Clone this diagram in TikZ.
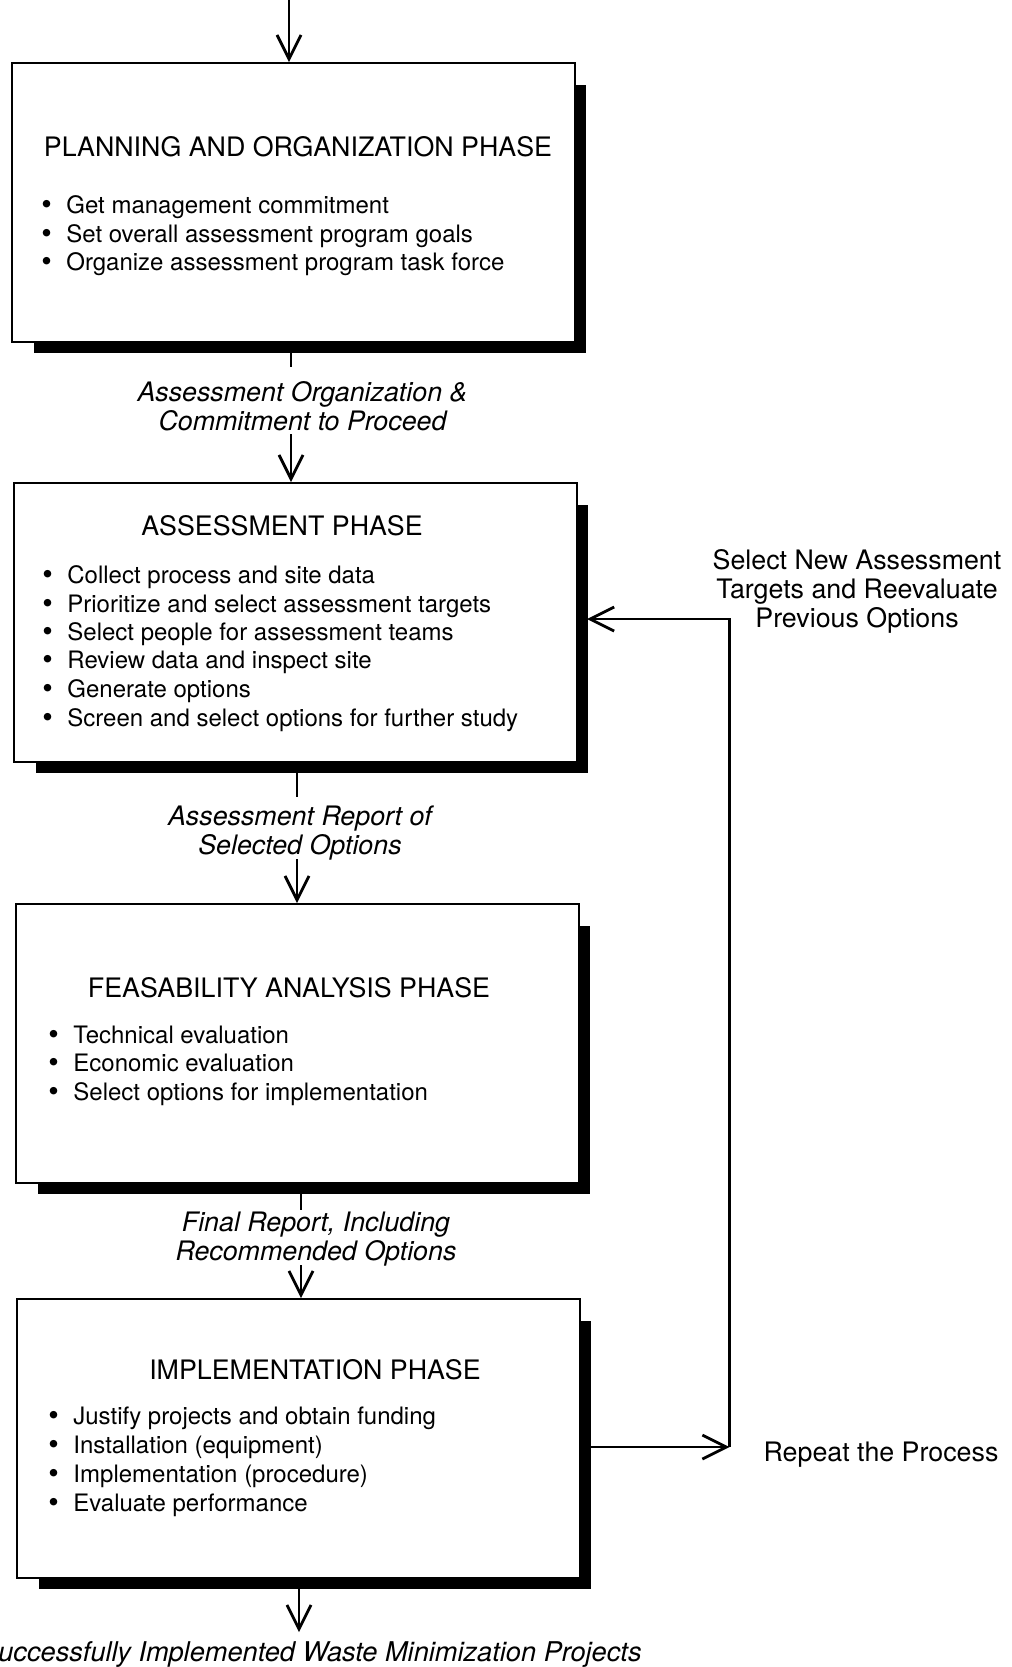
\documentclass[tikz,border=0pt]{standalone}
\usepackage{fontspec}
\setmainfont{TeX Gyre Heros}
\usetikzlibrary{arrows.meta,backgrounds}
\tikzset{
  phasebox/.style={draw, line width=1pt, fill=white, minimum width=281.5pt, minimum height=139.5pt, inner sep=0pt, anchor=north west},
  phasetitle/.style={inner sep=0pt, font=\fontsize{13.4}{15}\selectfont},
  bulletline/.style={inner sep=0pt, anchor=base west, font=\fontsize{12}{14.4}\selectfont},
  flowlabel/.style={inner sep=0pt, align=center, font=\fontsize{13.4}{14.5}\selectfont\itshape},
  sidelabel/.style={inner sep=0pt, align=center, font=\fontsize{13.4}{14.5}\selectfont},
  conn/.style={line width=1.4pt},
  arr/.style={line width=1.4pt, -{Straight Barb[length=12pt,width=12pt,line width=1.4pt]}},
}
\newcommand{\bl}[1]{\makebox[12.5pt][l]{\raisebox{-0.8pt}{\scalebox{1.25}{\textbullet}}}#1}
\begin{document}
\begin{tikzpicture}[x=0.5pt,y=-0.5pt]
\useasboundingbox (0,0) rectangle (1012,1667);

% boxes
\node[phasebox] (b1) at (11,62) {};
\node[phasebox] (b2) at (13,482) {};
\node[phasebox] (b3) at (15,903) {};
\node[phasebox] (b4) at (16,1298) {};
\begin{scope}[on background layer]
  \foreach \b in {b1,b2,b3,b4}{
    \fill ([shift={(23,23)}]\b.north west) rectangle ([shift={(10,10)}]\b.south east);
  }
\end{scope}

% titles
\node[phasetitle] (t1) at (298,147) {PLANNING AND ORGANIZATION PHASE};
\node[phasetitle] (t2) at (282,526) {ASSESSMENT PHASE};
\node[phasetitle] (t3) at (289,988) {FEASABILITY ANALYSIS PHASE};
\node[phasetitle] (t4) at (315,1369.5) {IMPLEMENTATION PHASE};

% bullets box 1
\node[bulletline] (p1a) at (41,213) {\bl{Get management commitment}};
\node[bulletline] (p1b) at (41,242) {\bl{Set overall assessment program goals}};
\node[bulletline] (p1c) at (41,270) {\bl{Organize assessment program task force}};
% bullets box 2
\node[bulletline] (p2a) at (42,583) {\bl{Collect process and site data}};
\node[bulletline] (p2b) at (42,612) {\bl{Prioritize and select assessment targets}};
\node[bulletline] (p2c) at (42,640) {\bl{Select people for assessment teams}};
\node[bulletline] (p2d) at (42,668) {\bl{Review data and inspect site}};
\node[bulletline] (p2e) at (42,697) {\bl{Generate options}};
\node[bulletline] (p2f) at (42,726) {\bl{Screen and select options for further study}};
% bullets box 3
\node[bulletline] (p3a) at (48,1043) {\bl{Technical evaluation}};
\node[bulletline] (p3b) at (48,1071) {\bl{Economic evaluation}};
\node[bulletline] (p3c) at (48,1100) {\bl{Select options for implementation}};
% bullets box 4
\node[bulletline] (p4a) at (48,1424) {\bl{Justify projects and obtain funding}};
\node[bulletline] (p4b) at (48,1453) {\bl{Installation (equipment)}};
\node[bulletline] (p4c) at (48,1482) {\bl{Implementation (procedure)}};
\node[bulletline] (p4d) at (48,1511) {\bl{Evaluate performance}};

% flow labels
\node[flowlabel] (l1) at (302.5,406) {Assessment Organization \&\\Commitment to Proceed};
\node[flowlabel] (l2) at (300,833) {Assessment Report of\\Selected Options};
\node[flowlabel] (l3) at (316,1239) {Final Report, Including\\Recommended Options};
\node[flowlabel, anchor=east, font=\fontsize{13.6}{14.5}\selectfont\itshape] (lout) at (642,1654) {Successfully Implemented Waste Minimization Projects};

% side labels
\node[sidelabel] (lsel) at (857,591) {Select New Assessment\\Targets and Reevaluate\\Previous Options};
\node[sidelabel] (lrep) at (881,1455) {Repeat the Process};

% connectors
\coordinate (in) at (289,0);
\draw[arr] (in) -- (in |- b1.north);

\coordinate (s1) at (291,348);
\coordinate (s1e) at (291,367);
\draw[conn] (s1) -- (s1e);
\coordinate (a2) at (291,434);
\draw[arr] (a2) -- (a2 |- b2.north);

\coordinate (s2) at (297,769);
\coordinate (s2e) at (297,797);
\draw[conn] (s2) -- (s2e);
\coordinate (a3) at (297,859);
\draw[arr] (a3) -- (a3 |- b3.north);

\coordinate (s3) at (301,1190);
\coordinate (s3e) at (301,1210);
\draw[conn] (s3) -- (s3e);
\coordinate (a4) at (301,1265);
\draw[arr] (a4) -- (a4 |- b4.north);

\coordinate (s4) at (299,1589);
\coordinate (s4e) at (299,1632);
\draw[arr] (s4) -- (s4e);

% feedback loop
\coordinate (f0) at (589,1447);
\coordinate (f1) at (729.5,1447);
\coordinate (f2) at (729.5,619);
\coordinate (f3) at (587,619);
\draw[arr] (f0) -- (f1);
\draw[arr] (f1) -- (f2) -- (f3);
\end{tikzpicture}
\end{document}
